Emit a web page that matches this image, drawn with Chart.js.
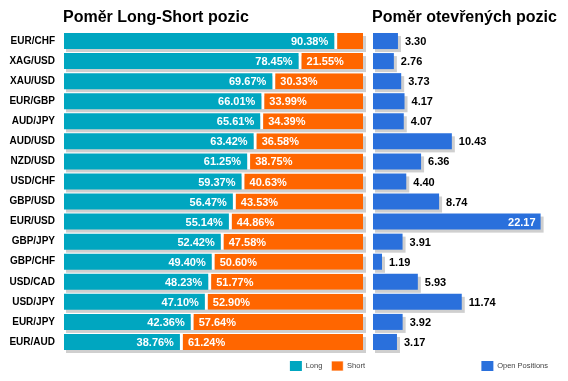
<!DOCTYPE html>
<html><head><meta charset="utf-8">
<script src="https://cdn.jsdelivr.net/npm/chart.js@4/dist/chart.umd.min.js"></script>
<style>
html,body{margin:0;padding:0;background:#fff;}
#wrap{position:relative;width:568px;height:381px;overflow:hidden;}
#c1{position:absolute;left:0;top:0;}
#c2{position:absolute;left:368px;top:0;}
</style></head>
<body><div id="wrap"><canvas id="c1" width="368" height="381"></canvas><canvas id="c2" width="200" height="381"></canvas></div>
<script>
const categories = ["EUR/CHF","XAG/USD","XAU/USD","EUR/GBP","AUD/JPY","AUD/USD","NZD/USD","USD/CHF","GBP/USD","EUR/USD","GBP/JPY","GBP/CHF","USD/CAD","USD/JPY","EUR/JPY","EUR/AUD"];
const longValues = [90.38,78.45,69.67,66.01,65.61,63.42,61.25,59.37,56.47,55.14,52.42,49.40,48.23,47.10,42.36,38.76];
const shortValues = [9.62,21.55,30.33,33.99,34.39,36.58,38.75,40.63,43.53,44.86,47.58,50.60,51.77,52.90,57.64,61.24];
const openValues = [3.30,2.76,3.73,4.17,4.07,10.43,6.36,4.40,8.74,22.17,3.91,1.19,5.93,11.74,3.92,3.17];
const titles = ["Poměr Long-Short pozic","Poměr otevřených pozic"];

const FONT = "Arial, 'Liberation Sans', sans-serif";
const C_LONG = "#00a6c0", C_SHORT = "#ff6600", C_OPEN = "#2a70dc", C_SHADOW = "#cfcfcf";

const shadowPlugin = {
  id: 'shadowPlugin',
  beforeDatasetsDraw(chart){
    const ctx = chart.ctx;
    const n = chart.data.datasets.length;
    const first = chart.getDatasetMeta(0).data;
    const last = chart.getDatasetMeta(n-1).data;
    ctx.save();
    ctx.fillStyle = C_SHADOW;
    first.forEach((el,i)=>{
      const p0 = el.getProps(['x','y','base','height'],true);
      const p1 = last[i].getProps(['x'],true);
      const top = p0.y - p0.height/2;
      ctx.fillRect(p0.base+2, top+3, (p1.x+3)-(p0.base+2), p0.height);
    });
    ctx.restore();
  }
};
const titlePlugin = {
  id: 'titlePlugin',
  afterDraw(chart, args, opts){
    const ctx = chart.ctx;
    ctx.save();
    ctx.font = "bold 16px " + FONT;
    ctx.fillStyle = "#000";
    ctx.textBaseline = "alphabetic";
    ctx.textAlign = "left";
    ctx.fillText(opts.text, chart.chartArea.left - 1, 22);
    ctx.restore();
  }
};
const legendShift = {
  id: 'legendShift',
  afterLayout(chart, args, opts){
    if (chart.legend){ chart.legend.left += opts.dx; chart.legend.right += opts.dx; }
  }
};
const lsLabels = {
  id: 'lsLabels',
  afterDatasetsDraw(chart){
    const ctx = chart.ctx;
    ctx.save();
    ctx.font = "bold 11px " + FONT;
    ctx.fillStyle = "#fff";
    ctx.textBaseline = "middle";
    chart.getDatasetMeta(0).data.forEach((el,i)=>{
      const p = el.getProps(['x','y','base'],true);
      const t = longValues[i].toFixed(2) + "%";
      if (p.x - p.base > 45){ ctx.textAlign="right"; ctx.fillText(t, p.x-6, p.y+1); }
    });
    chart.getDatasetMeta(1).data.forEach((el,i)=>{
      const p = el.getProps(['x','y','base'],true);
      const t = shortValues[i].toFixed(2) + "%";
      if (p.x - p.base > 45){ ctx.textAlign="left"; ctx.fillText(t, p.base+8, p.y+1); }
    });
    ctx.restore();
  }
};
const openLabels = {
  id: 'openLabels',
  afterDatasetsDraw(chart){
    const ctx = chart.ctx;
    ctx.save();
    ctx.font = "bold 11px " + FONT;
    ctx.textBaseline = "middle";
    chart.getDatasetMeta(0).data.forEach((el,i)=>{
      const p = el.getProps(['x','y'],true);
      const t = openValues[i].toFixed(2);
      const w = ctx.measureText(t).width;
      if (p.x + 7 + w > chart.chartArea.right){
        ctx.fillStyle="#fff"; ctx.textAlign="right"; ctx.fillText(t, p.x-5, p.y+1);
      } else {
        ctx.fillStyle="#000"; ctx.textAlign="left"; ctx.fillText(t, p.x+7, p.y+1);
      }
    });
    ctx.restore();
  }
};

const legendOpts = {
  position: 'bottom', align: 'end',
  labels: { boxWidth: 12, boxHeight: 10, padding: 9, color: '#444', font: { family: FONT, size: 7.5 } }
};

new Chart(document.getElementById('c1'), {
  type: 'bar',
  data: {
    labels: categories,
    datasets: [
      { label: 'Long', data: longValues, backgroundColor: C_LONG, borderWidth: 0, categoryPercentage: 0.8, barPercentage: 1 },
      { label: 'Short', data: shortValues, backgroundColor: C_SHORT, borderColor: '#fff', borderWidth: {left: 3, right: 0, top: 0, bottom: 0}, borderSkipped: false, categoryPercentage: 0.8, barPercentage: 1 }
    ]
  },
  options: {
    indexAxis: 'y', responsive: false, animation: false,
    layout: { padding: { top: 31, right: 5, left: 0, bottom: 0 } },
    scales: {
      x: { stacked: true, min: 0, max: 100, display: false },
      y: { stacked: true, grid: { display: false, drawTicks: false }, border: { display: false },
           ticks: { padding: 9, color: '#000', font: { family: FONT, size: 10, weight: 'bold' } },
           afterFit(s){ s.width = 64; } }
    },
    plugins: { legend: legendOpts, tooltip: { enabled: false }, titlePlugin: { text: titles[0] }, legendShift: { dx: 11 } }
  },
  plugins: [shadowPlugin, lsLabels, titlePlugin, legendShift]
});

new Chart(document.getElementById('c2'), {
  type: 'bar',
  data: {
    labels: categories,
    datasets: [
      { label: 'Open Positions', data: openValues, backgroundColor: C_OPEN, borderWidth: 0, categoryPercentage: 0.8, barPercentage: 1 }
    ]
  },
  options: {
    indexAxis: 'y', responsive: false, animation: false,
    layout: { padding: { top: 31, right: 6, left: 5, bottom: 0 } },
    scales: {
      x: { min: 0, max: 25, display: false },
      y: { display: false }
    },
    plugins: { legend: legendOpts, tooltip: { enabled: false }, titlePlugin: { text: titles[1] }, legendShift: { dx: -5 } }
  },
  plugins: [shadowPlugin, openLabels, titlePlugin, legendShift]
});
</script></body></html>
